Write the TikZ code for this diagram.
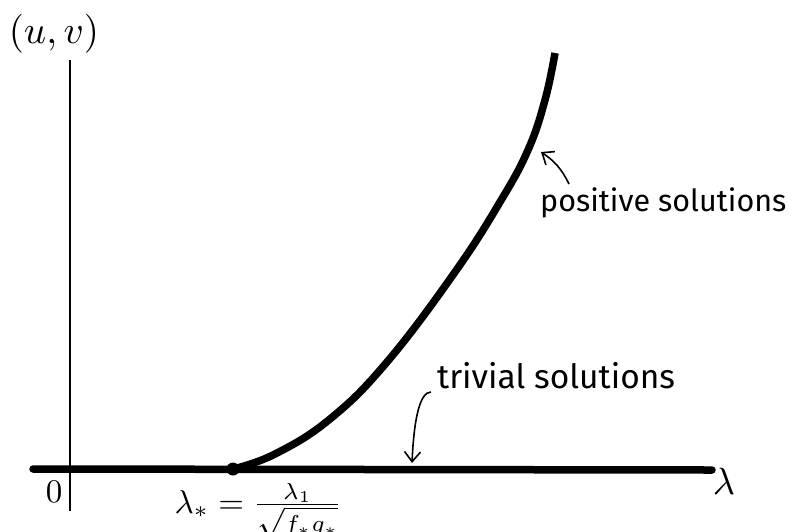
\documentclass[tikz,border=0pt]{standalone}
\usepackage{fontspec}
\newfontfamily\hand{Fira Sans}
\usetikzlibrary{arrows.meta}
\tikzset{
  thick curve/.style={line width=7.5pt, line cap=round},
  axisline/.style={line width=1.6pt},
  handarrow/.style={line width=1.6pt, -{Straight Barb[length=10pt,width=16pt,line width=1.6pt]}},
  handtext/.style={font=\hand, inner sep=0pt},
  mathlbl/.style={inner sep=0pt}
}
\begin{document}
\begin{tikzpicture}[x=1pt,y=-1pt]
\useasboundingbox (0,0) rectangle (794,531);
% axes
\coordinate (vtop) at (70,60);
\coordinate (vbot) at (70,511);
\draw[axisline] (vtop) -- (vbot);
\coordinate (hl) at (33,469);
\coordinate (hr) at (712,470);
\draw[thick curve] (hl) -- (hr);
% bifurcation point
\coordinate (lstar) at (233,469);
\fill (lstar) circle (6.5pt);
% positive branch
\draw[thick curve, line cap=butt] plot[smooth, tension=0.7] coordinates
  {(233,469) (275,454) (330,419) (387,362) (455,272) (500,202) (528,150) (545,100) (555,53)};
% labels
\node[mathlbl, scale=3.9, anchor=base west] (uv) at (8,43) {$(u,v)$};
\node[mathlbl, scale=3.3, anchor=base] (zero) at (54,502) {$0$};
\node[mathlbl, scale=3.8, anchor=base west] (lam) at (712,494) {$\lambda$};
\node[mathlbl, scale=3.3, anchor=base west] (lstarlbl) at (174,513)
  {$\lambda_* = \frac{\lambda_1}{\sqrt{f_* g_*}}$};
\node[handtext, font=\hand\fontsize{30.5}{32}\selectfont, anchor=base west] (pos) at (540,211) {positive solutions};
\node[handtext, font=\hand\fontsize{33.5}{35}\selectfont, anchor=base west] (triv) at (437,388) {trivial solutions};
% arrows
\coordinate (pa) at (569,184);
\coordinate (pb) at (541,152);
\draw[handarrow] (pa) to[bend right=15] (pb);
\coordinate (ta) at (431,392);
\coordinate (tb) at (412,463);
\draw[handarrow] (ta) .. controls (420,392) and (414,418) .. (tb);
\end{tikzpicture}
\end{document}
